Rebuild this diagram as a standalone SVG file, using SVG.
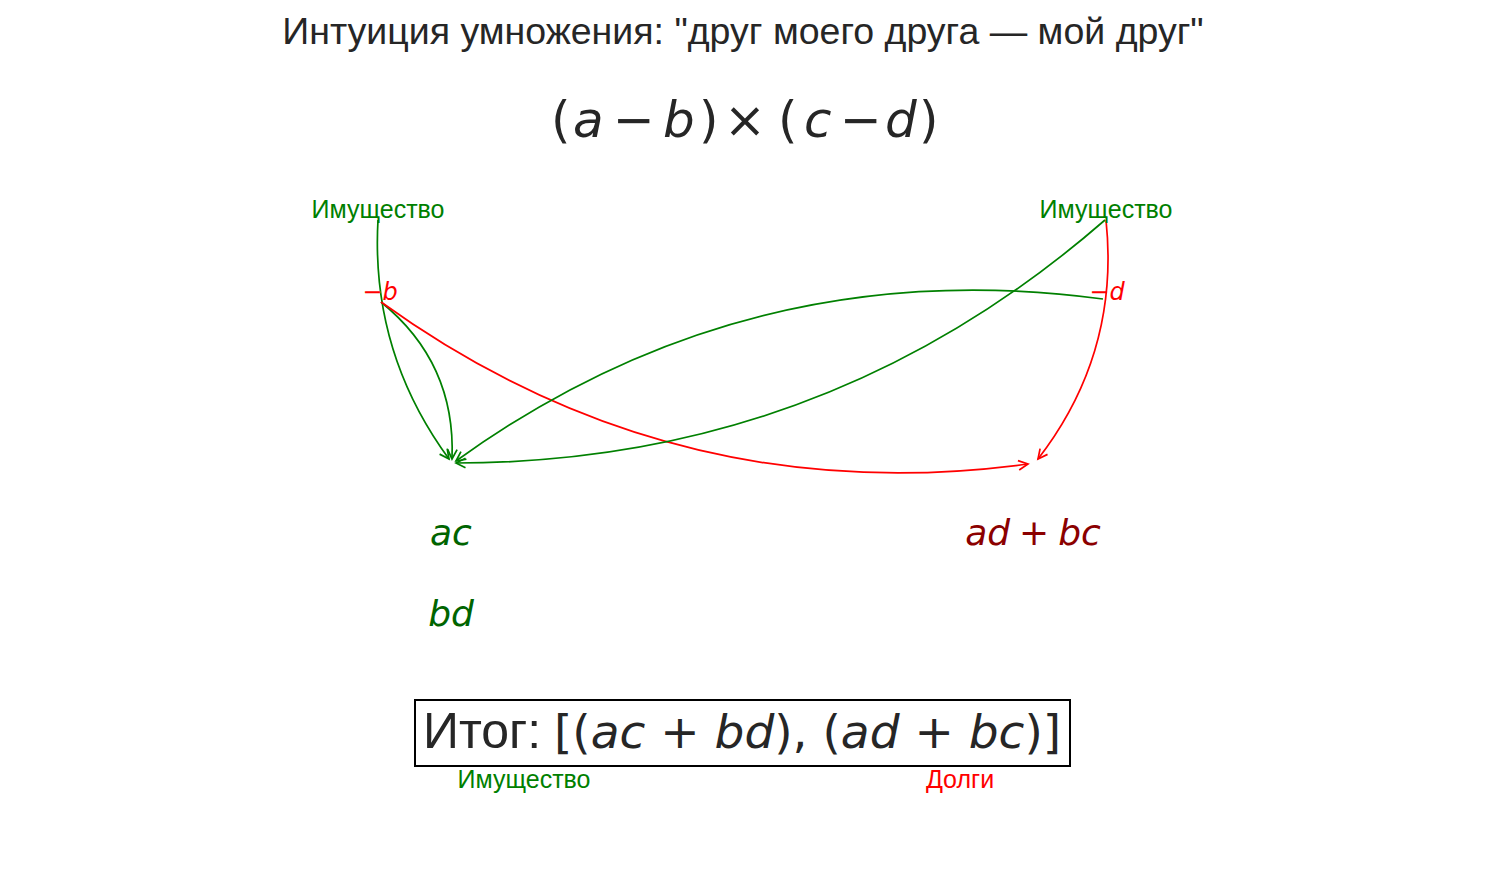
<svg xmlns="http://www.w3.org/2000/svg" width="1485" height="885" viewBox="0 0 1485 885">
<style>
.title{font-family:"Liberation Sans",Arial,sans-serif;font-size:37.5px;fill:#262626;text-anchor:middle}
.lbl{font-family:"Liberation Sans",Arial,sans-serif;font-size:25px;text-anchor:middle}
.math{font-family:"DejaVu Sans",sans-serif}
.mid{text-anchor:middle}
.it{font-style:italic}
.g{fill:#008000}
.r{fill:#ff0000}
.dg{fill:#006400}
.dr{fill:#8b0000}
.k{fill:#262626}
.cg{fill:none;stroke:#008000;stroke-width:1.7;marker-end:url(#ag)}
.cr{fill:none;stroke:#ff0000;stroke-width:1.7;marker-end:url(#ar)}
</style>
<defs>
<marker id="ag" markerUnits="userSpaceOnUse" markerWidth="14" markerHeight="14" refX="10" refY="6" orient="auto" overflow="visible"><path d="M0.5,1.3 L10,6 L0.5,10.7" fill="none" stroke="#008000" stroke-width="1.7"/></marker>
<marker id="ar" markerUnits="userSpaceOnUse" markerWidth="14" markerHeight="14" refX="10" refY="6" orient="auto" overflow="visible"><path d="M0.5,1.3 L10,6 L0.5,10.7" fill="none" stroke="#ff0000" stroke-width="1.7"/></marker>
</defs>
<rect width="1485" height="885" fill="#ffffff"/>
<text id="title" class="title" x="743" y="44">Интуиция умножения: "друг моего друга — мой друг"</text>
<g id="expr"><text class="math k" y="137" font-size="50"><tspan x="551">(</tspan><tspan class="it" x="573">a</tspan><tspan x="613">−</tspan><tspan class="it" x="663">b</tspan><tspan x="699">)</tspan><tspan x="724">×</tspan><tspan x="778">(</tspan><tspan class="it" x="804">c</tspan><tspan x="840">−</tspan><tspan class="it" x="885">d</tspan><tspan x="919">)</tspan></text></g>
<g id="connectors">
<path class="cg" d="M378,220 Q370.5,352 449,459"/>
<path class="cg" d="M381,302 Q456,363 452,459"/>
<path class="cr" d="M381,302 Q672,512 1028,464"/>
<path class="cg" d="M1105,220 Q826,463 456,463"/>
<path class="cg" d="M1103,299 Q747,251 456,461"/>
<path class="cr" d="M1106,220 Q1120,353 1038,459"/>
</g>
<g id="assetA"><text class="lbl g" x="378" y="218">Имущество</text></g>
<g id="assetC"><text class="lbl g" x="1106" y="218">Имущество</text></g>
<g id="debtB"><text class="math mid r" x="380" y="300" font-size="24">−<tspan class="it">b</tspan></text></g>
<g id="debtD"><text class="math mid r" x="1107" y="300" font-size="24">−<tspan class="it">d</tspan></text></g>
<g id="ac"><text class="math mid dg it" x="451" y="545" font-size="36">ac</text></g>
<g id="bd"><text class="math mid dg it" x="451" y="626" font-size="36">bd</text></g>
<g id="adbc"><text class="math mid dr" x="1033" y="545" font-size="36" word-spacing="-2.5"><tspan class="it">ad</tspan> + <tspan class="it">bc</tspan></text></g>
<g id="result">
<rect x="415" y="700" width="655" height="66" fill="none" stroke="#000000" stroke-width="2"/>
<text x="423" y="748" font-family="Liberation Sans, Arial, sans-serif" font-size="50" fill="#262626">Итог:</text>
<text class="math k" x="554" y="748" font-size="47">[(<tspan class="it">ac</tspan> + <tspan class="it">bd</tspan>), (<tspan class="it">ad</tspan> + <tspan class="it">bc</tspan>)]</text>
</g>
<g id="legendAssets"><text class="lbl g" x="524" y="788">Имущество</text></g>
<g id="legendDebts"><text class="lbl r" x="960" y="788">Долги</text></g>
</svg>
